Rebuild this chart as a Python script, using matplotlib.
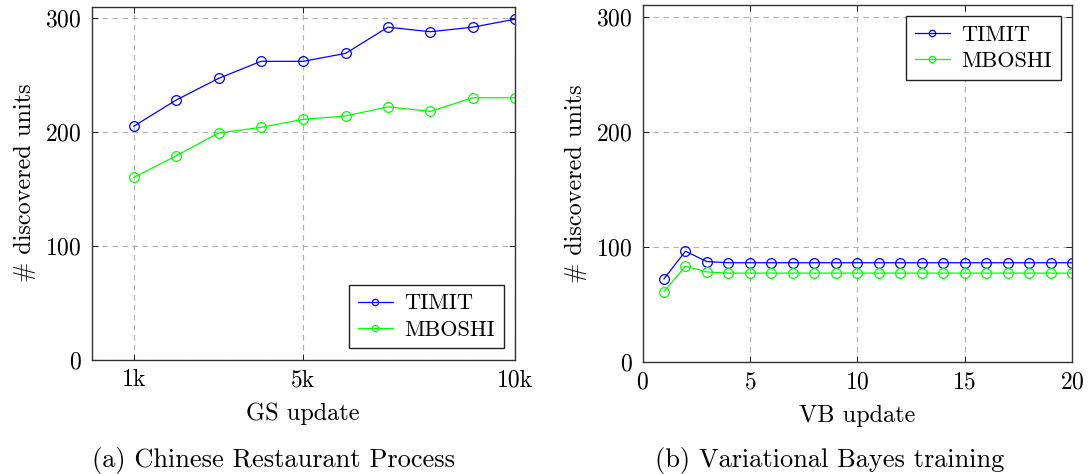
import matplotlib

matplotlib.use("Agg")
import matplotlib.pyplot as plt

plt.rcParams["font.family"] = "cmr10"
plt.rcParams["axes.formatter.use_mathtext"] = True
plt.rcParams["font.size"] = 17

# (a) Chinese Restaurant Process, x in thousands of GS updates
gs_updates = [1, 2, 3, 4, 5, 6, 7, 8, 9, 10]
crp_timit = [205, 228, 247, 262, 262, 269, 292, 288, 292, 299]
crp_mboshi = [160, 179, 199, 204, 211, 214, 222, 218, 230, 230]
gs_ticks = [1, 5, 10]
gs_ticklabels = ["1k", "5k", "10k"]

# (b) Variational Bayes training
vb_updates = list(range(1, 21))
vb_timit = [72, 96, 87, 86, 86, 86, 86, 86, 86, 86, 86, 86, 86, 86, 86, 86, 86, 86, 86, 86]
vb_mboshi = [61, 83, 78, 77, 77, 77, 77, 77, 77, 77, 77, 77, 77, 77, 77, 77, 77, 77, 77, 77]

BLUE = (0, 0, 1)
GREEN = (0, 1, 0)
line_kw = dict(marker="o", markersize=7, markerfacecolor="none", linewidth=0.9, markeredgewidth=0.9)

W, H = 1089, 474
fig = plt.figure(figsize=(W / 100, H / 100), dpi=100)
ax1 = fig.add_axes([91.5 / W, 1 - 359.5 / H, (515 - 91.5) / W, (359.5 - 6.7) / H])
ax2 = fig.add_axes([642.5 / W, 1 - 361.7 / H, (1072 - 642.5) / W, (361.7 - 5) / H])


def style(ax):
    ax.grid(True, linestyle=(0, (5, 4)), color="#b0b0b0", linewidth=0.8)
    ax.set_axisbelow(True)
    ax.tick_params(direction="in", top=True, right=True, length=4, width=0.6, pad=7)
    for s in ax.spines.values():
        s.set_linewidth(1.0)
        s.set_color("#333333")
    ax.set_ylim(0, 310)
    ax.set_yticks([0, 100, 200, 300])
    ax.set_ylabel("# discovered units", fontsize=17.5, labelpad=7)


def legend(ax, loc):
    leg = ax.legend(loc=loc, fancybox=False, edgecolor="#222222", framealpha=1, fontsize=16,
                    borderaxespad=0.5, handlelength=1.6, handletextpad=0.5, markerscale=0.65,
                    borderpad=0.4, labelspacing=0.3)
    leg.get_frame().set_linewidth(1.0)


ax1.plot(gs_updates, crp_timit, color=BLUE, label="TIMIT", **line_kw)
ax1.plot(gs_updates, crp_mboshi, color=GREEN, label="MBOSHI", **line_kw)
ax1.set_xlim(0, 10)
ax1.set_xticks(gs_ticks)
ax1.set_xticklabels(gs_ticklabels)
ax1.set_xlabel("GS update", fontsize=17.5, labelpad=8)
style(ax1)
legend(ax1, "lower right")

ax2.plot(vb_updates, vb_timit, color=BLUE, label="TIMIT", **line_kw)
ax2.plot(vb_updates, vb_mboshi, color=GREEN, label="MBOSHI", **line_kw)
ax2.set_xlim(0, 20)
ax2.set_xticks([0, 5, 10, 15, 20])
ax2.set_xlabel("VB update", fontsize=17.5, labelpad=8)
style(ax2)
legend(ax2, "upper right")

fig.text(274 / W, 1 - 460 / H, "(a) Chinese Restaurant Process", ha="center", va="center", fontsize=19)
fig.text(830 / W, 1 - 460 / H, "(b) Variational Bayes training", ha="center", va="center", fontsize=19)

fig.savefig("out.png", dpi=100)
